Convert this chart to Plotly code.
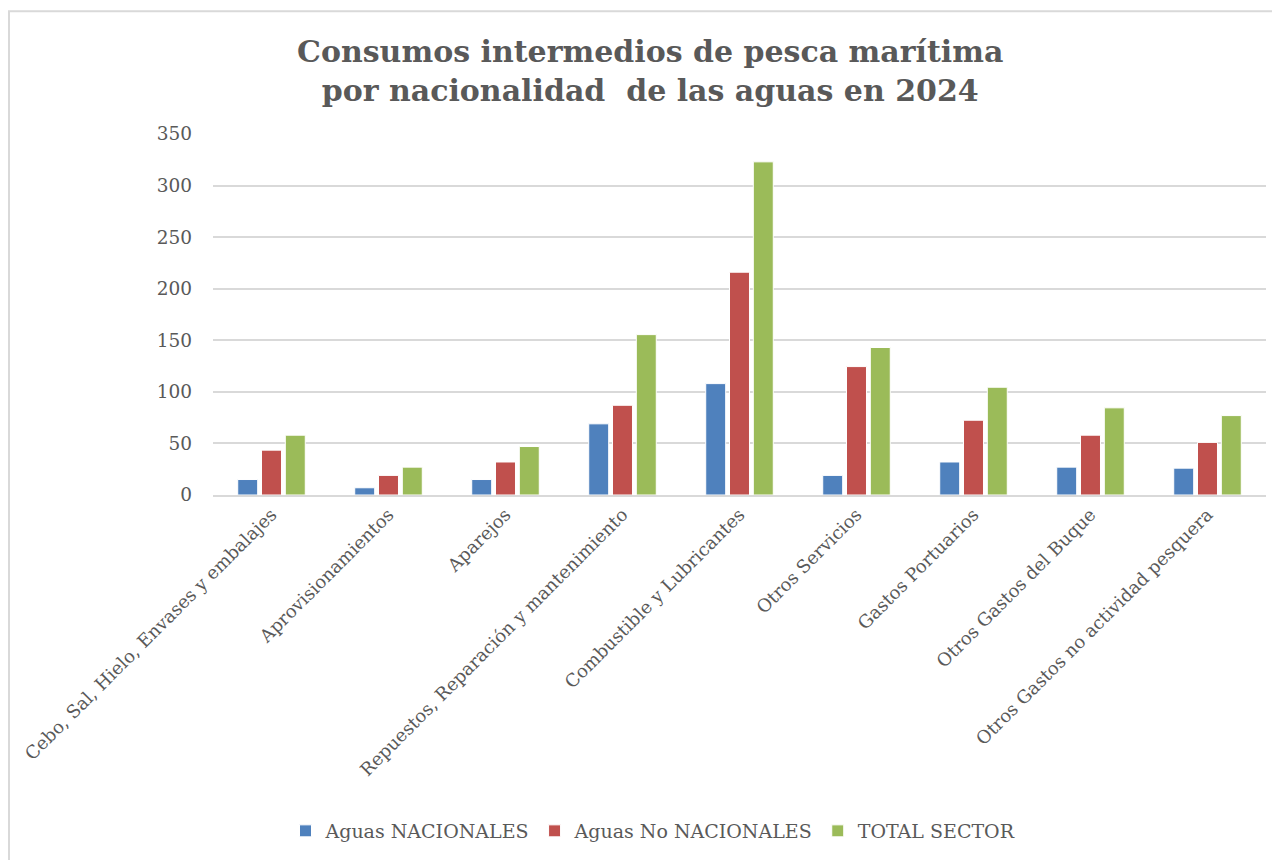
import plotly.graph_objects as go

categories = [
    "Cebo, Sal, Hielo, Envases y embalajes",
    "Aprovisionamientos",
    "Aparejos",
    "Repuestos, Reparación y mantenimiento",
    "Combustible y Lubricantes",
    "Otros Servicios",
    "Gastos Portuarios",
    "Otros Gastos del Buque",
    "Otros Gastos no actividad pesquera",
]
aguas_nacionales = [15, 7, 15, 69, 108, 19, 32, 27, 26]
aguas_no_nacionales = [43.5, 19, 32, 87, 216, 124.5, 72.5, 58, 51]
total_sector = [58, 27, 47, 155.5, 323, 143, 104.5, 84.5, 77]
y_ticks = [0, 50, 100, 150, 200, 250, 300, 350]

FONT = "DejaVu Serif"
TXT = "#595959"

fig = go.Figure()
for name, vals, col in [
    ("Aguas NACIONALES", aguas_nacionales, "#4F81BD"),
    ("Aguas No NACIONALES", aguas_no_nacionales, "#C0504D"),
    ("TOTAL SECTOR", total_sector, "#9BBB59"),
]:
    fig.add_trace(go.Bar(x=categories, y=vals, name=name,
                         marker=dict(color=col, line=dict(color="white", width=1))))

# figure coordinates (page is offset by 8px body margin)
W, H = 1272, 852
L, R, T, B = 205, 1258, 126, 488

px = lambda x: (x - L) / (R - L)
py = lambda y: (B - y) / (B - T)

fig.update_layout(
    width=W, height=H,
    margin=dict(l=L, r=W - R, t=T, b=H - B),
    paper_bgcolor="white", plot_bgcolor="white",
    barmode="group", bargap=0.39, bargroupgap=0.16,
    font=dict(family=FONT, color=TXT, size=18),
    legend=dict(orientation="h", x=px(645), xanchor="center",
                y=py(823), yanchor="middle",
                font=dict(family=FONT, size=19, color=TXT),
                itemwidth=30, traceorder="normal"),
    showlegend=True,
)
fig.add_annotation(
    text="<b>Consumos intermedios de pesca marítima<br>por nacionalidad  de las aguas en 2024</b>",
    xref="paper", yref="paper", x=px(642), y=py(24), xanchor="center", yanchor="top",
    showarrow=False, align="center",
    font=dict(family=FONT, size=30, color=TXT),
)
fig.update_yaxes(range=[0, 350], tickvals=y_ticks, showgrid=True, gridcolor="#D9D9D9",
                 gridwidth=2, zeroline=False, showline=False, ticks="",
                 ticklabelstandoff=20, tickfont=dict(family=FONT, size=18.5, color=TXT))
fig.update_xaxes(tickangle=-45, showline=True, linecolor="#D9D9D9", linewidth=2,
                 ticks="", tickfont=dict(family=FONT, size=18, color=TXT))

fig.add_shape(type="rect", xref="paper", yref="paper",
              x0=px(1), x1=px(1300), y0=py(900), y1=py(3),
              line=dict(color="#D9D9D9", width=2), fillcolor="rgba(0,0,0,0)", layer="below")

fig.write_html("out.html")
